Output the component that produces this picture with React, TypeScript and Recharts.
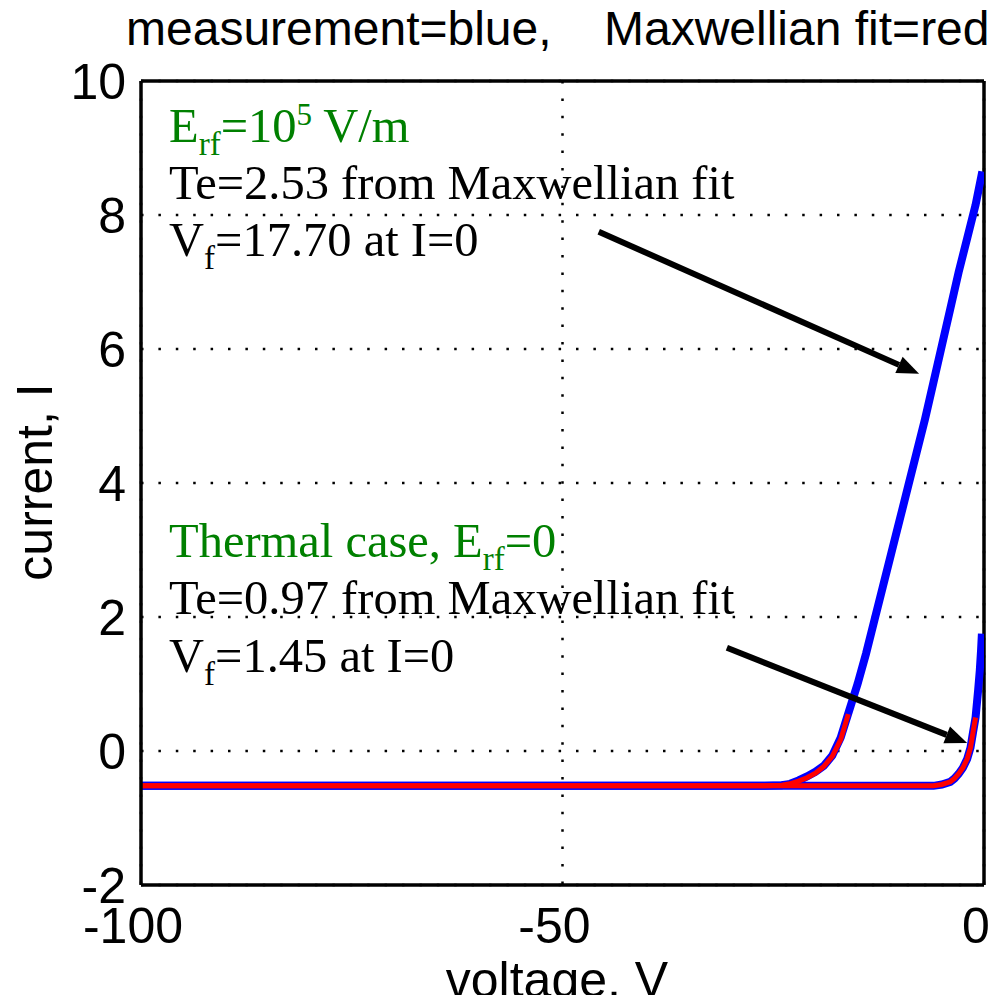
import React from "react";
import {
    LineChart,
    Line,
    XAxis,
    YAxis,
    CartesianGrid,
    ReferenceLine,
} from "recharts";

// E_rf = 1e5 V/m case: measured probe current (blue)
const hotMeasV = [-100, -26, -24, -23, -22, -21, -20, -19, -18, -17, -16, -15, -14, -13, -12, -11, -10, -9, -8, -7, -6, -5, -4, -3, -2, -1, -0.2];
const hotMeasI = [-0.52, -0.52, -0.51, -0.49, -0.44, -0.38, -0.31, -0.22, -0.07, 0.2, 0.6, 1.0, 1.45, 1.95, 2.45, 2.95, 3.45, 3.95, 4.45, 4.95, 5.5, 6.05, 6.6, 7.15, 7.65, 8.15, 8.65];

// E_rf = 1e5 V/m case: Maxwellian fit (red)
const hotFitV = [-100, -26, -24, -23, -22, -21, -20, -19, -18, -17, -16.1];
const hotFitI = [-0.52, -0.52, -0.51, -0.49, -0.45, -0.4, -0.33, -0.23, -0.08, 0.17, 0.55];

// thermal case: measured (blue)
const thermMeasV = [-100, -6, -5, -4, -3.5, -3, -2.5, -2, -1.6, -1.3, -1.0, -0.7, -0.5, -0.35, -0.25];
const thermMeasI = [-0.52, -0.52, -0.5, -0.46, -0.41, -0.34, -0.25, -0.12, 0.05, 0.28, 0.5, 0.9, 1.2, 1.5, 1.75];

// thermal case: Maxwellian fit (red)
const thermFitV = [-100, -6, -5, -4, -3.5, -3, -2.5, -2, -1.6, -1.3, -1.0];
const thermFitI = [-0.52, -0.52, -0.5, -0.46, -0.41, -0.34, -0.25, -0.12, 0.05, 0.28, 0.5];

const xTicks = [-100, -50, 0];
const yTicks = [-2, 0, 2, 4, 6, 8, 10];

// annotation arrows, in data units (tail -> tip)
const arrowHot = [{ x: -45.7, y: 7.75 }, { x: -7.7, y: 5.63 }];
const arrowTherm = [{ x: -30.5, y: 1.54 }, { x: -2.0, y: 0.12 }];

const toPoints = (v: number[], i: number[]) => v.map((x, k) => ({ v: x, i: i[k] }));

const SANS = "'Liberation Sans', Arial, Helvetica, sans-serif";
const SERIF = "'Liberation Serif', 'Times New Roman', serif";
const GREEN = "#008000";

const Arrow = (props: any) => {
    const { x1, y1, x2, y2 } = props;
    const ang = Math.atan2(y2 - y1, x2 - x1);
    const len = 22;
    const half = 9;
    const bx = x2 - len * Math.cos(ang);
    const by = y2 - len * Math.sin(ang);
    const px = -Math.sin(ang) * half;
    const py = Math.cos(ang) * half;
    return (
        <g>
            <line x1={x1} y1={y1} x2={bx} y2={by} stroke="#000" strokeWidth={6} />
            <polygon points={`${x2},${y2} ${bx + px},${by + py} ${bx - px},${by - py}`} fill="#000" />
        </g>
    );
};

export default function App() {
    const gridStyle = { stroke: "#000", strokeWidth: 2.5, strokeDasharray: "2.5 14.9" };
    return (
        <div style={{ position: "relative", width: 997, height: 995, background: "#fff", overflow: "hidden" }}>
            <style>{"body{margin:0}"}</style>
            <LineChart width={997} height={995} margin={{ top: 81, right: 13, left: 0, bottom: 0 }}>
                <CartesianGrid
                    {...gridStyle}
                    horizontalValues={yTicks}
                    verticalValues={xTicks}
                />
                <XAxis
                    dataKey="v"
                    type="number"
                    domain={[-100, 0]}
                    ticks={xTicks}
                    height={110}
                    allowDataOverflow
                    tickLine={false}
                    tickSize={0}
                    tickMargin={22}
                    axisLine={{ stroke: "#000", strokeWidth: 3.5 }}
                    tick={{ fontSize: 50, fill: "#000", fontFamily: SANS, dx: -8 }}
                />
                <YAxis
                    dataKey="i"
                    type="number"
                    domain={[-2, 10]}
                    ticks={yTicks}
                    width={141}
                    allowDataOverflow
                    tickLine={false}
                    tickSize={0}
                    tickMargin={15}
                    axisLine={{ stroke: "#000", strokeWidth: 3.5 }}
                    tick={{ fontSize: 50, fill: "#000", fontFamily: SANS }}
                />
                {/* top and right edges of the box */}
                <ReferenceLine y={10} stroke="#000" strokeWidth={3.5} ifOverflow="visible" />
                <ReferenceLine x={0} stroke="#000" strokeWidth={3.5} ifOverflow="visible" />
                <Line data={toPoints(hotMeasV, hotMeasI)} dataKey="i" stroke="#0000ff" strokeWidth={8} dot={false} isAnimationActive={false} type="linear" />
                <Line data={toPoints(thermMeasV, thermMeasI)} dataKey="i" stroke="#0000ff" strokeWidth={8} dot={false} isAnimationActive={false} type="linear" />
                <Line data={toPoints(hotFitV, hotFitI)} dataKey="i" stroke="#ff0000" strokeWidth={5} dot={false} isAnimationActive={false} type="linear" />
                <Line data={toPoints(thermFitV, thermFitI)} dataKey="i" stroke="#ff0000" strokeWidth={5} dot={false} isAnimationActive={false} type="linear" />
                <ReferenceLine segment={arrowHot} shape={Arrow} ifOverflow="visible" />
                <ReferenceLine segment={arrowTherm} shape={Arrow} ifOverflow="visible" />
            </LineChart>
            <svg width={997} height={995} style={{ position: "absolute", left: 0, top: 0, pointerEvents: "none" }}>
                <text x={126} y={45} fontSize={48} fontFamily={SANS} fill="#000">measurement=blue,</text>
                <text x={604} y={45} fontSize={48} fontFamily={SANS} fill="#000">Maxwellian fit=red</text>
                <text x={52} y={482} fontSize={50} fontFamily={SANS} fill="#000" textAnchor="middle" transform="rotate(-90 52 482)">current, I</text>
                <text x={557} y={997} fontSize={50} fontFamily={SANS} fill="#000" textAnchor="middle">voltage, V</text>

                <g fontFamily={SERIF} fontSize={48.5}>
                    <text x={169} y={142} fill={GREEN}>
                        E<tspan fontSize={33} dy={13}>rf</tspan>
                        <tspan dy={-13}>=10</tspan>
                        <tspan fontSize={31} dy={-17}>5</tspan>
                        <tspan dy={17}> V/m</tspan>
                    </text>
                    <text x={169} y={199} fill="#000">Te=2.53 from Maxwellian fit</text>
                    <text x={169} y={256} fill="#000">
                        V<tspan fontSize={33} dy={13}>f</tspan>
                        <tspan dy={-13}>=17.70 at I=0</tspan>
                    </text>

                    <text x={169} y={557} fill={GREEN}>
                        Thermal case, E<tspan fontSize={33} dy={13}>rf</tspan>
                        <tspan dy={-13}>=0</tspan>
                    </text>
                    <text x={169} y={614} fill="#000">Te=0.97 from Maxwellian fit</text>
                    <text x={169} y={672} fill="#000">
                        V<tspan fontSize={33} dy={13}>f</tspan>
                        <tspan dy={-13}>=1.45 at I=0</tspan>
                    </text>
                </g>
            </svg>
        </div>
    );
}
